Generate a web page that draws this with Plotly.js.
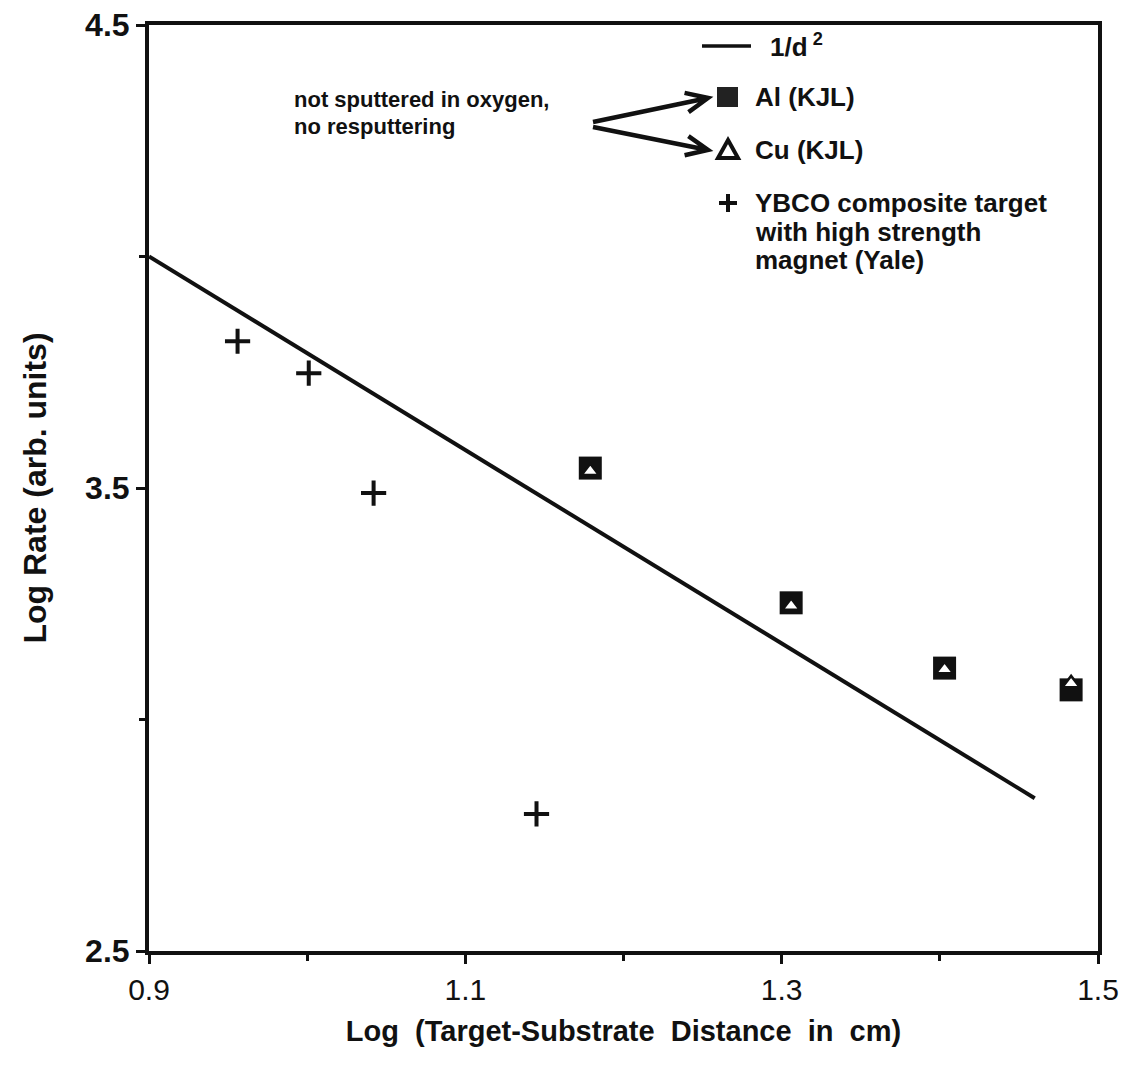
<!DOCTYPE html>
<html>
<head>
<meta charset="utf-8">
<script src="https://cdn.plot.ly/plotly-3.0.1.min.js"></script>
<style>html,body{margin:0;padding:0;background:#fff;}#chart{width:1124px;height:1077px;}</style>
</head>
<body>
<div id="chart"></div>
<script>
// ---- data ----
const fitX = [0.9, 1.46];
const fitY = [4.0, 2.83];
const alX = [1.179, 1.306, 1.403, 1.483];
const alY = [3.543, 3.252, 3.111, 3.064];
const cuX = [1.179, 1.306, 1.403, 1.483];
const cuY = [3.536, 3.245, 3.108, 3.078];
const ybcoX = [0.956, 1.001, 1.042, 1.145];
const ybcoY = [3.817, 3.748, 3.489, 2.796];
const xTicks = [0.9, 1.1, 1.3, 1.5];
const xMinor = [1.0, 1.2, 1.4];
const yTicks = [2.5, 3.5, 4.5];
const yMinor = [3.0, 4.0];
const legendLabels = ['1/d<sup> 2</sup>', 'Al (KJL)', 'Cu (KJL)', 'YBCO composite target', 'with high strength', 'magnet (Yale)'];
const noteLines = ['not sputtered in oxygen,', 'no resputtering'];

// ---- layout geometry ----
const W = 1124, H = 1077;
const M = {l: 149, r: 26, t: 25, b: 126};
const PW = W - M.l - M.r, PH = H - M.t - M.b;
const px = x => (x - M.l) / PW;       // pixel -> paper x
const py = y => (H - M.b - y) / PH;   // pixel -> paper y
const FONT = 'Liberation Sans, Arial, Helvetica, sans-serif';
const ink = '#111';

const traces = [
  {x: fitX, y: fitY, mode: 'lines', line: {color: ink, width: 4}, showlegend: false, hoverinfo: 'skip'},
  {x: alX, y: alY, mode: 'markers', marker: {symbol: 'square', size: 23, color: ink, line: {width: 0}}, showlegend: false},
  {x: cuX, y: cuY, mode: 'markers', marker: {symbol: 'triangle-up', size: 15, color: '#fff', line: {color: ink, width: 2.5}}, showlegend: false},
  {x: ybcoX, y: ybcoY, mode: 'markers', marker: {symbol: 'cross-thin', size: 18, color: ink, line: {color: ink, width: 4}}, showlegend: false}
];

const shapes = [];
const annotations = [];
const legY = [46, 97, 150, 203, 232, 260];
// legend: line sample
shapes.push({type: 'line', xref: 'paper', yref: 'paper', x0: px(702), x1: px(751), y0: py(legY[0]), y1: py(legY[0]), line: {color: ink, width: 3.5}});
// square sample
shapes.push({type: 'rect', xref: 'paper', yref: 'paper', x0: px(717), x1: px(738), y0: py(legY[1] - 10), y1: py(legY[1] + 10), fillcolor: '#222', line: {width: 0}});
// triangle sample (open)
shapes.push({type: 'path', xref: 'paper', yref: 'paper',
  path: `M ${px(728)} ${py(legY[2] - 10)} L ${px(738)} ${py(legY[2] + 8)} L ${px(718)} ${py(legY[2] + 8)} Z`,
  fillcolor: '#fff', line: {color: ink, width: 4}});
// plus sample
shapes.push({type: 'path', xref: 'paper', yref: 'paper',
  path: `M ${px(719)} ${py(legY[3])} L ${px(737)} ${py(legY[3])} M ${px(728)} ${py(legY[3] - 9)} L ${px(728)} ${py(legY[3] + 9)}`,
  line: {color: ink, width: 4}});
// arrows
function arrow(x0, y0, x1, y1) {
  const ang = Math.atan2(y1 - y0, x1 - x0);
  const L = 24, a = 0.42;
  const ax = x1 - L * Math.cos(ang - a), ay = y1 - L * Math.sin(ang - a);
  const bx = x1 - L * Math.cos(ang + a), by = y1 - L * Math.sin(ang + a);
  shapes.push({type: 'path', xref: 'paper', yref: 'paper',
    path: `M ${px(x0)} ${py(y0)} L ${px(x1)} ${py(y1)} M ${px(ax)} ${py(ay)} L ${px(x1)} ${py(y1)} L ${px(bx)} ${py(by)}`,
    line: {color: ink, width: 4.5}});
}
arrow(593, 122, 708, 98);
arrow(593, 127, 708, 150);

function txt(text, x, y, size, bold, anchor) {
  annotations.push({xref: 'paper', yref: 'paper', x: px(x), y: py(y), xanchor: anchor || 'left', yanchor: 'middle',
    text: bold ? '<b>' + text + '</b>' : text, showarrow: false, font: {family: FONT, size: size, color: ink}});
}
legendLabels.forEach((t, i) => txt(t, i === 0 ? 768 : 753, legY[i], 26, true));
txt(noteLines[0], 292, 99, 22, true);
txt(noteLines[1], 292, 127, 22, true);

const layout = {
  width: W, height: H,
  margin: M,
  paper_bgcolor: '#fff', plot_bgcolor: '#fff',
  showlegend: false,
  font: {family: FONT, color: ink},
  xaxis: {
    range: [0.9, 1.5], tickvals: xTicks, ticktext: xTicks.map(v => v.toFixed(1)),
    ticks: 'outside', ticklen: 9, tickwidth: 3, tickcolor: ink,
    minor: {tickvals: xMinor, ticks: 'outside', ticklen: 6, tickwidth: 3, tickcolor: ink},
    showline: true, linewidth: 4, linecolor: ink, mirror: true,
    showgrid: false, zeroline: false,
    tickfont: {family: FONT, size: 30, color: ink},
    title: {text: '<b>Log  (Target-Substrate  Distance  in  cm)</b>', font: {family: FONT, size: 29, color: ink}, standoff: 17}
  },
  yaxis: {
    range: [2.5, 4.5], tickvals: yTicks, ticktext: yTicks.map(v => '<b>' + v.toFixed(1) + '</b>'),
    ticks: 'outside', ticklen: 9, tickwidth: 3, tickcolor: ink,
    minor: {tickvals: yMinor, ticks: 'outside', ticklen: 6, tickwidth: 3, tickcolor: ink},
    showline: true, linewidth: 4, linecolor: ink, mirror: true,
    showgrid: false, zeroline: false,
    tickfont: {family: FONT, size: 32, color: ink},
    title: {text: '<b>Log Rate (arb. units)</b>', font: {family: FONT, size: 32, color: ink}, standoff: 30}
  },
  shapes: shapes,
  annotations: annotations
};

Plotly.newPlot('chart', traces, layout, {staticPlot: true, displayModeBar: false});
</script>
</body>
</html>
